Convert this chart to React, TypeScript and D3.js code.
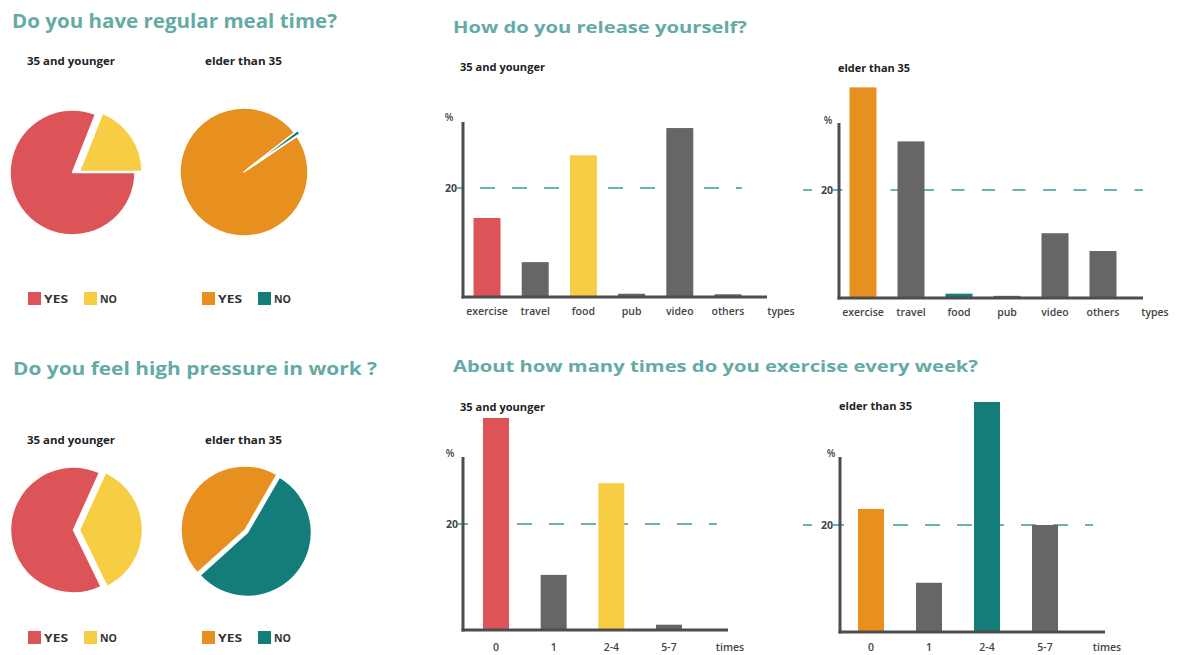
import React from "react";
import * as d3 from "d3";

// ---------- data ----------
const pieLabels = ["YES", "NO"];
const mealYoung = [81, 19];
const mealElder = [99, 1];
const pressureYoung = [64, 36];
const pressureElder = [45, 55];

const releaseTypes = ["exercise", "travel", "food", "pub", "video", "others"];
const releaseYoung = [14.5, 6.4, 26, 0.6, 31, 0.5];
const releaseElder = [39, 29, 0.8, 0.4, 12, 8.7];

const exerciseTimes = ["0", "1", "2-4", "5-7"];
const exerciseYoung = [40, 10.4, 27.7, 1];
const exerciseElder = [23, 9.2, 43, 20];

const refValue = 20;
const refLabel = "20";

const titles = [
  "Do you have regular meal time?",
  "How do you release yourself?",
  "Do you feel high pressure in work ?",
  "About how many times do you exercise every week?",
];
const groupLabels = ["35 and younger", "elder than 35"];

// ---------- styles ----------
const RED = "#dc5458";
const YELLOW = "#f6cd43";
const ORANGE = "#e8901f";
const TEAL = "#147d7a";
const GRAY = "#666666";
const AXIS = "#4d4d4d";
const DASH = "#6ab3ae";
const TITLE = "#64aaa5";
const FONT = "'Open Sans', 'DejaVu Sans', sans-serif";

type PieCfg = {
  values: number[];
  colors: string[];
  cx: number;
  cy: number;
  r: number;
  start: number; // degrees
  offsets: [number, number][];
};

function Pie({ cfg }: { cfg: PieCfg }) {
  const s = (cfg.start * Math.PI) / 180;
  const arcs = d3
    .pie<number>()
    .sort(null)
    .startAngle(s)
    .endAngle(s + Math.PI * 2)(cfg.values);
  const arc = d3.arc<d3.PieArcDatum<number>>().innerRadius(0).outerRadius(cfg.r);
  return (
    <g transform={`translate(${cfg.cx},${cfg.cy})`}>
      {arcs.map((a, i) => (
        <path
          key={i}
          d={arc(a) || ""}
          fill={cfg.colors[i]}
          stroke="#fff"
          strokeWidth={1.5}
          strokeLinejoin="round"
          transform={`translate(${cfg.offsets[i][0]},${cfg.offsets[i][1]})`}
        />
      ))}
    </g>
  );
}

function Legend({ x, y, colors, nox }: { x: number; y: number; colors: string[]; nox: number }) {
  const xs = [x, nox];
  return (
    <g>
      {pieLabels.map((lab, i) => (
        <g key={lab}>
          <rect x={xs[i]} y={y} width={13} height={13} fill={colors[i]} />
          <text
            x={xs[i] + 16}
            y={y + 11}
            fontFamily={FONT}
            fontWeight={700}
            fontSize={10.5}
            fill="#333"
            textLength={lab === "YES" ? 24 : 17}
            lengthAdjust="spacingAndGlyphs"
          >
            {lab}
          </text>
        </g>
      ))}
    </g>
  );
}

type BarCfg = {
  cats: string[];
  values: number[];
  colors: string[];
  axisX: number;
  y0: number;
  y20: number;
  yTop: number;
  xEnd: number;
  pts: [number, number];
  barW: number;
  dash: { x1: number; x2: number; arr: string; off: number };
  pct: [number, number];
  unit: string;
  unitX: number;
  labelY: number;
  tickRight: number;
};

function BarChart({ c }: { c: BarCfg }) {
  const x = d3.scalePoint<string>().domain(c.cats).range(c.pts);
  const y = d3.scaleLinear().domain([0, refValue]).range([c.y0, c.y20]);
  const yRef = y(refValue);
  return (
    <g>
      <line
        x1={c.dash.x1}
        x2={c.dash.x2}
        y1={yRef}
        y2={yRef}
        stroke={DASH}
        strokeWidth={2}
        strokeDasharray={c.dash.arr}
        strokeDashoffset={c.dash.off}
      />
      <rect x={c.tickRight - 17} y={yRef - 7} width={17} height={14} fill="#fff" />
      <text
        x={c.tickRight}
        y={yRef + 4}
        textAnchor="end"
        fontFamily={FONT}
        fontWeight={700}
        fontSize={10.5}
        fill="#444"
      >
        {refLabel}
      </text>
      <text x={c.pct[0]} y={c.pct[1] + 4} textAnchor="middle" fontFamily={FONT} fontWeight={600} fontSize={10} fill="#444">
        %
      </text>
      {c.cats.map((cat, i) => (
        <rect
          key={cat}
          x={(x(cat) as number) - c.barW / 2}
          y={y(c.values[i])}
          width={c.barW}
          height={c.y0 - y(c.values[i])}
          fill={c.colors[i]}
        />
      ))}
      <line x1={c.axisX} x2={c.axisX} y1={c.yTop} y2={c.y0 + 1.5} stroke={AXIS} strokeWidth={3} />
      <line x1={c.axisX - 1.5} x2={c.xEnd} y1={c.y0} y2={c.y0} stroke={AXIS} strokeWidth={3} />
      {c.cats.map((cat) => (
        <text
          key={cat}
          x={x(cat) as number}
          y={c.labelY}
          textAnchor="middle"
          fontFamily={FONT}
          fontWeight={600}
          fontSize={10.5}
          fill="#444"
        >
          {cat}
        </text>
      ))}
      <text x={c.unitX} y={c.labelY} textAnchor="middle" fontFamily={FONT} fontWeight={600} fontSize={10.5} fill="#444">
        {c.unit}
      </text>
    </g>
  );
}

function Title({ x, y, size, width, children }: any) {
  return (
    <text
      x={x}
      y={y}
      fontFamily={FONT}
      fontWeight={700}
      fontSize={size}
      fill={TITLE}
      textLength={width}
      lengthAdjust="spacingAndGlyphs"
    >
      {children}
    </text>
  );
}

function Sub({ x, y, width, children }: any) {
  return (
    <text
      x={x}
      y={y}
      fontFamily={FONT}
      fontWeight={700}
      fontSize={10.5}
      fill="#222"
      textLength={width}
      lengthAdjust="spacingAndGlyphs"
    >
      {children}
    </text>
  );
}

export default function App() {
  const pies: PieCfg[] = [
    { values: mealYoung, colors: [RED, YELLOW], cx: 72.5, cy: 172.5, r: 62.5, start: 90, offsets: [[0, 0], [7, -1]] },
    { values: mealElder, colors: [ORANGE, TEAL], cx: 244, cy: 172, r: 64, start: 56, offsets: [[0, 0], [3, -2.5]] },
    { values: pressureYoung, colors: [RED, YELLOW], cx: 73.5, cy: 530, r: 63, start: 154, offsets: [[0, 0], [6, 0]] },
    { values: pressureElder, colors: [ORANGE, TEAL], cx: 246, cy: 531, r: 64, start: 228, offsets: [[-1, -1], [1.5, 1.5]] },
  ];

  const charts: BarCfg[] = [
    {
      cats: releaseTypes, values: releaseYoung, colors: [RED, GRAY, YELLOW, GRAY, GRAY, GRAY],
      axisX: 463, y0: 297, y20: 188, yTop: 122, xEnd: 767, pts: [487, 728], barW: 27,
      dash: { x1: 448, x2: 742, arr: "15 17", off: 0 }, pct: [449, 117], unit: "types", unitX: 781,
      labelY: 315, tickRight: 457,
    },
    {
      cats: releaseTypes, values: releaseElder, colors: [ORANGE, GRAY, TEAL, GRAY, GRAY, GRAY],
      axisX: 839, y0: 298, y20: 190, yTop: 123, xEnd: 1143, pts: [863, 1103], barW: 27,
      dash: { x1: 803, x2: 1143, arr: "13 17.5", off: 4 }, pct: [828, 120], unit: "types", unitX: 1155,
      labelY: 316, tickRight: 833,
    },
    {
      cats: exerciseTimes, values: exerciseYoung, colors: [RED, GRAY, YELLOW, GRAY],
      axisX: 463, y0: 630, y20: 524, yTop: 457, xEnd: 728, pts: [496, 669], barW: 26,
      dash: { x1: 453, x2: 717, arr: "15 17", off: 0 }, pct: [450, 453], unit: "times", unitX: 730,
      labelY: 651, tickRight: 458,
    },
    {
      cats: exerciseTimes, values: exerciseElder, colors: [ORANGE, GRAY, TEAL, GRAY],
      axisX: 840, y0: 632, y20: 525, yTop: 457, xEnd: 1105, pts: [871, 1045], barW: 26,
      dash: { x1: 803, x2: 1093, arr: "15 17", off: 6 }, pct: [831, 453], unit: "times", unitX: 1107,
      labelY: 651, tickRight: 833,
    },
  ];

  return (
    <svg
      width={1179}
      height={655}
      viewBox="0 0 1179 655"
      style={{ position: "absolute", left: 0, top: 0, background: "#fff" }}
    >
      <rect width={1179} height={655} fill="#fff" />
      <Title x={12} y={28} size={19} width={325}>{titles[0]}</Title>
      <Title x={453} y={33} size={16.5} width={294}>{titles[1]}</Title>
      <Title x={13} y={375} size={18.5} width={364}>{titles[2]}</Title>
      <Title x={453} y={372} size={16.5} width={525}>{titles[3]}</Title>

      <Sub x={27} y={65} width={88}>{groupLabels[0]}</Sub>
      <Sub x={205} y={65} width={77}>{groupLabels[1]}</Sub>
      <Sub x={27} y={444} width={88}>{groupLabels[0]}</Sub>
      <Sub x={205} y={444} width={77}>{groupLabels[1]}</Sub>

      <Sub x={460} y={71} width={85}>{groupLabels[0]}</Sub>
      <Sub x={838} y={72} width={72}>{groupLabels[1]}</Sub>
      <Sub x={460} y={411} width={85}>{groupLabels[0]}</Sub>
      <Sub x={839} y={410} width={73}>{groupLabels[1]}</Sub>

      {pies.map((p, i) => (
        <Pie key={i} cfg={p} />
      ))}

      <Legend x={28} y={292} colors={[RED, YELLOW]} nox={84} />
      <Legend x={202} y={292} colors={[ORANGE, TEAL]} nox={258} />
      <Legend x={28} y={631} colors={[RED, YELLOW]} nox={84} />
      <Legend x={202} y={631} colors={[ORANGE, TEAL]} nox={258} />

      {charts.map((c, i) => (
        <BarChart key={i} c={c} />
      ))}
    </svg>
  );
}
